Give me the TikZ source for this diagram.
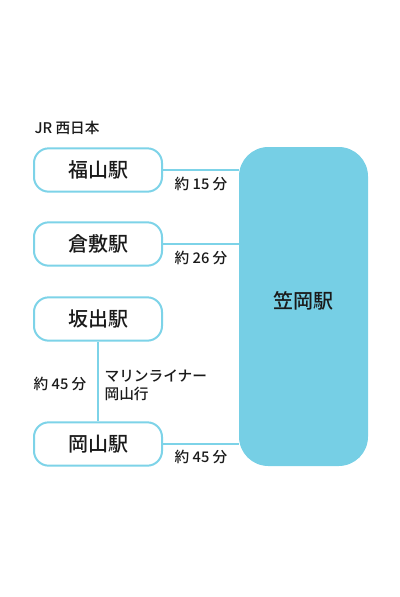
\documentclass[tikz,border=0pt]{standalone}
\usepackage{fontspec}
\setmainfont{Noto Sans CJK JP}[UprightFont={* Medium}]
\usepackage{xcolor}
\usetikzlibrary{positioning}
\definecolor{line}{HTML}{7DD3E8}
\definecolor{fillc}{HTML}{76CFE5}
\definecolor{ink}{HTML}{1A1A1A}
\tikzset{
  station/.style={draw=line, line width=1.5pt, fill=white, rounded corners=11pt,
    minimum width=96pt, minimum height=32.5pt, text=ink, font=\fontsize{15}{18}\selectfont},
  hub/.style={fill=fillc, rounded corners=22pt, minimum width=96.75pt,
    minimum height=239.25pt},
  hubname/.style={text=ink, font=\fontsize{15}{18}\selectfont, yshift=4.5pt},
  link/.style={draw=line, line width=1.5pt},
  lab/.style={text=ink, font=\fontsize{11}{13.5}\selectfont, inner sep=1pt},
}
\begin{document}
\begin{tikzpicture}[x=0.75pt, y=-0.75pt]
\useasboundingbox (0,0) rectangle (400,597);
\node[hub, label={[hubname, name=kasaokaname]center:笠岡駅}] (kasaoka) at (303.5,306.5) {};
\node[station] (fukuyama) at (98,170) {福山駅};
\node[station] (kurashiki) at (98,244) {倉敷駅};
\node[station] (sakaide) at (98,319) {坂出駅};
\node[station] (okayama) at (98,444) {岡山駅};
% connectors
\draw[link] (fukuyama.east) -- (fukuyama.east -| kasaoka.west);
\draw[link] (kurashiki.east) -- (kurashiki.east -| kasaoka.west);
\draw[link] (okayama.east) -- (okayama.east -| kasaoka.west);
\draw[link] (sakaide.south) -- (okayama.north);
% labels
\node[lab, anchor=west] (jr) at (33,128) {JR 西日本};
\node[lab] (t1) at (201,184) {約 15 分};
\node[lab] (t2) at (201,258) {約 26 分};
\node[lab] (t3) at (201,457) {約 45 分};
\node[lab] (t4) at (60,384) {約 45 分};
\node[lab, anchor=west, align=left] (marine) at (103,385) {マリンライナー\\岡山行};
\end{tikzpicture}
\end{document}
